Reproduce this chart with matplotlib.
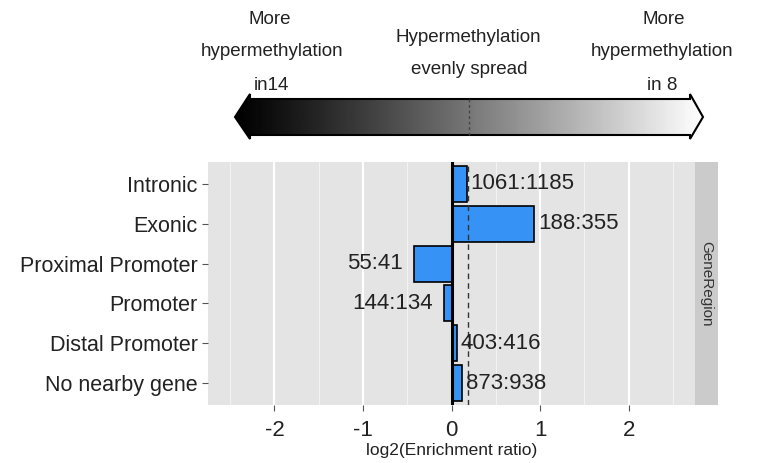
import numpy as np
import matplotlib
matplotlib.use('Agg')
import matplotlib.pyplot as plt
from matplotlib.patches import Polygon

plt.rcParams['font.family'] = ['Liberation Sans', 'DejaVu Sans']
plt.rcParams['axes.unicode_minus'] = False

# data
regions = ['Intronic', 'Exonic', 'Proximal Promoter', 'Promoter', 'Distal Promoter', 'No nearby gene']
log2_ratio = [0.17, 0.93, -0.42, -0.09, 0.06, 0.12]
count_labels = ['1061:1185', '188:355', '55:41', '144:134', '403:416', '873:938']
overall_ratio = 0.19
x_ticks = [-2, -1, 0, 1, 2]
x_minor = [-2.5, -1.5, -0.5, 0.5, 1.5, 2.5]

W, H = 759, 463
fig = plt.figure(figsize=(W / 100, H / 100), dpi=100)

# ---- main panel ----
ax = fig.add_axes([208 / W, 1 - 405 / H, (695 - 208) / W, (405 - 162) / H])
ax.set_facecolor('#e4e4e4')
ypos = np.arange(len(regions))
ax.barh(ypos, log2_ratio, height=0.9, color='#3792f5', edgecolor='black', linewidth=1.2, zorder=3)
ax.axvline(0, color='black', linewidth=2.2, zorder=4)
ax.axvline(overall_ratio, color='#333333', linewidth=1, linestyle=(0, (4, 3)), zorder=4)
for y, v, lab in zip(ypos, log2_ratio, count_labels):
    if v >= 0:
        ax.annotate(lab, (v, y), xytext=(3, 0), textcoords='offset points',
                    ha='left', va='center', fontsize=16, color='#222222', zorder=5)
    else:
        ax.annotate(lab, (v, y), xytext=(-8, 0), textcoords='offset points',
                    ha='right', va='center', fontsize=16, color='#222222', zorder=5)
ax.set_xlim(-2.75, 2.75)
ax.set_ylim(len(regions) - 0.45, -0.55)
ax.set_xticks(x_ticks)
ax.set_xticks(x_minor, minor=True)
ax.set_yticks(ypos)
ax.set_yticklabels(regions)
ax.grid(which='major', axis='x', color='white', linewidth=1.6, zorder=1)
ax.grid(which='minor', axis='x', color='#f2f2f2', linewidth=0.8, zorder=1)
ax.tick_params(axis='both', which='major', labelsize=15.5, length=4, color='#555555', labelcolor='#222222')
ax.tick_params(axis='x', which='major', labelsize=16, pad=7)
ax.tick_params(axis='x', which='minor', length=0)
for s in ax.spines.values():
    s.set_visible(False)
ax.set_xlabel('log2(Enrichment ratio)', fontsize=12.5, color='#222222', labelpad=1)

# ---- facet strip ----
sx = fig.add_axes([695 / W, 1 - 405 / H, 23 / W, (405 - 162) / H])
sx.set_facecolor('#cbcbcb')
sx.set_xticks([])
sx.set_yticks([])
for s in sx.spines.values():
    s.set_visible(False)
sx.text(0.5, 0.5, 'GeneRegion', rotation=-90, ha='center', va='center',
        fontsize=11, color='#333333', transform=sx.transAxes)

# ---- gradient arrow ----
aa = fig.add_axes([230 / W, 1 - 145 / H, (707 - 230) / W, 55 / H])
aa.set_xlim(230, 707)
aa.set_ylim(145, 90)
aa.axis('off')
pts = [(235, 117), (250, 94), (250, 99), (690, 99), (690, 94), (703, 117),
       (690, 139), (690, 135), (250, 135), (250, 139)]
arrow = Polygon(pts, closed=True, facecolor='none', edgecolor='black', linewidth=1.5, zorder=3)
aa.add_patch(arrow)
grad = np.linspace(0, 1, 256).reshape(1, -1) ** 1.1
im = aa.imshow(grad, cmap='gray', extent=(235, 703, 139, 94), aspect='auto', zorder=2)
im.set_clip_path(arrow)
aa.plot([469, 469], [99, 135], color='#444444', linewidth=1, linestyle=(0, (2, 2)), zorder=4)

txt = dict(ha='center', va='center', fontsize=13.5, color='#222222')
fig.text(270 / W, 1 - 20 / H, 'More', **txt)
fig.text(272 / W, 1 - 51 / H, 'hypermethylation', **txt)
fig.text(271 / W, 1 - 85 / H, 'in14', **txt)
fig.text(468 / W, 1 - 37 / H, 'Hypermethylation', **txt)
fig.text(469 / W, 1 - 69 / H, 'evenly spread', **txt)
fig.text(664 / W, 1 - 20 / H, 'More', **txt)
fig.text(662 / W, 1 - 51 / H, 'hypermethylation', **txt)
fig.text(662 / W, 1 - 85 / H, 'in 8', **txt)

fig.savefig('out.png', dpi=100)
